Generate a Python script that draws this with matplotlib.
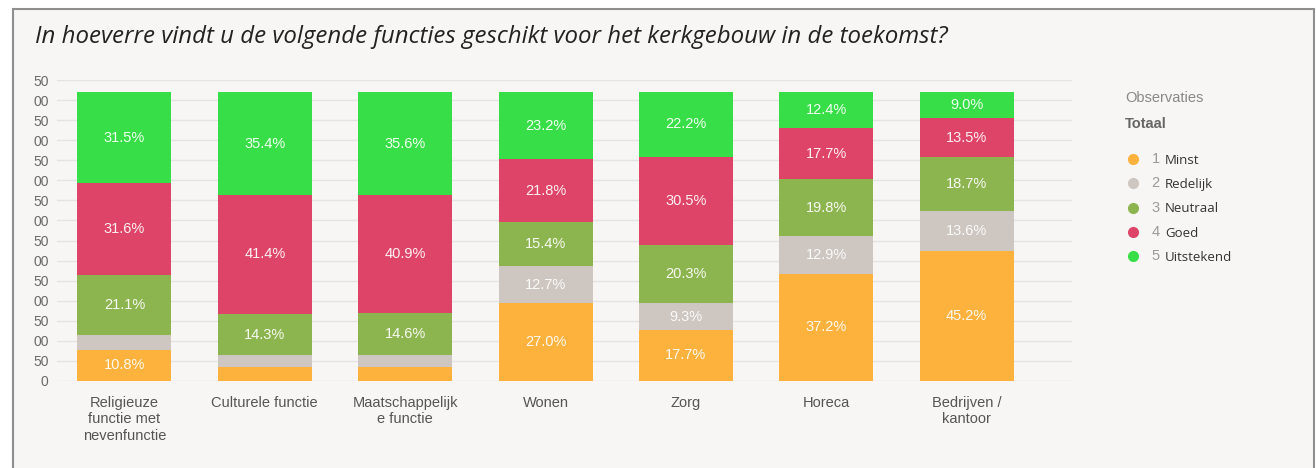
import matplotlib
matplotlib.use("Agg")
import matplotlib.pyplot as plt
from matplotlib.patches import Rectangle
from matplotlib.lines import Line2D
from matplotlib.text import Annotation
from matplotlib.ticker import FuncFormatter, MultipleLocator
import numpy as np

categories = ["Religieuze\nfunctie met\nnevenfunctie", "Culturele functie",
              "Maatschappelijk\ne functie", "Wonen", "Zorg", "Horeca",
              "Bedrijven /\nkantoor"]
series_names = ["Minst", "Redelijk", "Neutraal", "Goed", "Uitstekend"]
series_nums = ["1", "2", "3", "4", "5"]
minst = [10.8, 4.7, 4.7, 27.0, 17.7, 37.2, 45.2]
redelijk = [5.0, 4.2, 4.2, 12.7, 9.3, 12.9, 13.6]
neutraal = [21.1, 14.3, 14.6, 15.4, 20.3, 19.8, 18.7]
goed = [31.6, 41.4, 40.9, 21.8, 30.5, 17.7, 13.5]
uitstekend = [31.5, 35.4, 35.6, 23.2, 22.2, 12.4, 9.0]
respondents = 719

colors = ["#fcb23c", "#cdc6c1", "#8db54f", "#de4468", "#38de47"]

W, H = 1316, 468
fig = plt.figure(figsize=(W / 100, H / 100), dpi=100)
fig.patch.set_facecolor("white")

# outer frame
frame = Rectangle((12.5 / W, -0.05), (1313.5 - 12.5) / W, 1.05 - 9.5 / H,
                  transform=fig.transFigure, facecolor="#f7f6f4",
                  edgecolor="#8f8f8f", linewidth=1.5, zorder=-10)
fig.patches.append(frame)

fig.text(35 / W, 1 - 37 / H,
         "In hoeverre vindt u de volgende functies geschikt voor het kerkgebouw in de toekomst?",
         family="Open Sans", style="italic", fontsize=17.3, color="#222222",
         ha="left", va="center")

ax = fig.add_axes([57 / W, 1 - 381 / H, (1072 - 57) / W, (381 - 80) / H])
ax.set_facecolor("none")

x = np.arange(len(categories))
data = [minst, redelijk, neutraal, goed, uitstekend]
bottom = np.zeros(len(categories))
for vals, col in zip(data, colors):
    vals = np.array(vals)
    counts = vals / 100.0 * respondents
    ax.bar(x, counts, width=0.67, bottom=bottom, color=col, zorder=2)
    for xi, b, c, p in zip(x, bottom, counts, vals):
        if p >= 6:
            ax.text(xi, b + c / 2, f"{p:.1f}%", ha="center", va="center",
                    color="white", alpha=0.92, fontsize=10.5,
                    family="Liberation Sans", zorder=3)
    bottom += counts

ax.set_xlim(-0.48, 6.75)
ax.set_ylim(0, 750)
ax.yaxis.set_major_locator(MultipleLocator(50))
ax.yaxis.set_major_formatter(FuncFormatter(
    lambda v, pos: f"{int(round(v)) % 100:02d}" if v >= 100 else f"{int(round(v))}"))
ax.grid(axis="y", color="#e4e4e4", linewidth=1, zorder=0)
for s in ax.spines.values():
    s.set_visible(False)
ax.tick_params(axis="y", length=0, pad=6, labelsize=10, labelcolor="#6a6a6a")
ax.tick_params(axis="x", length=0, pad=11, labelsize=10.5, labelcolor="#555555")
ax.set_xticks(x)
ax.set_xticklabels(categories, family="Liberation Sans", linespacing=1.2)
for lbl in ax.get_yticklabels():
    lbl.set_family("Liberation Sans")

handles = [Line2D([], [], linestyle="none", marker="o", markersize=7,
                  markerfacecolor=c, markeredgecolor=c) for c in colors]
leg = fig.legend(handles, series_names, loc="upper left",
                 bbox_to_anchor=(1115 / W, 1 - 142 / H), frameon=False,
                 handlelength=1.0, handletextpad=1.9, labelspacing=0.85,
                 prop={"family": "Open Sans", "size": 9.5})
for t, n in zip(leg.get_texts(), series_nums):
    t.set_color("#333333")
    ann = Annotation(n, xy=(0, 0.6), xycoords=t, xytext=(-4, 0),
                     textcoords="offset points", ha="right", va="center",
                     fontsize=10.5, color="#9a9a9a", family="Liberation Sans",
                     annotation_clip=False, zorder=20)
    fig.add_artist(ann)

fig.text(1125 / W, 1 - 98 / H, "Observaties", fontsize=10.5, color="#888888",
         family="Liberation Sans", ha="left", va="center")
fig.text(1125 / W, 1 - 124 / H, "Totaal", fontsize=10.5, color="#666666",
         weight="bold", family="Liberation Sans", ha="left", va="center")

fig.canvas.draw()
fig.savefig("out.png", dpi=100, facecolor=fig.get_facecolor())
